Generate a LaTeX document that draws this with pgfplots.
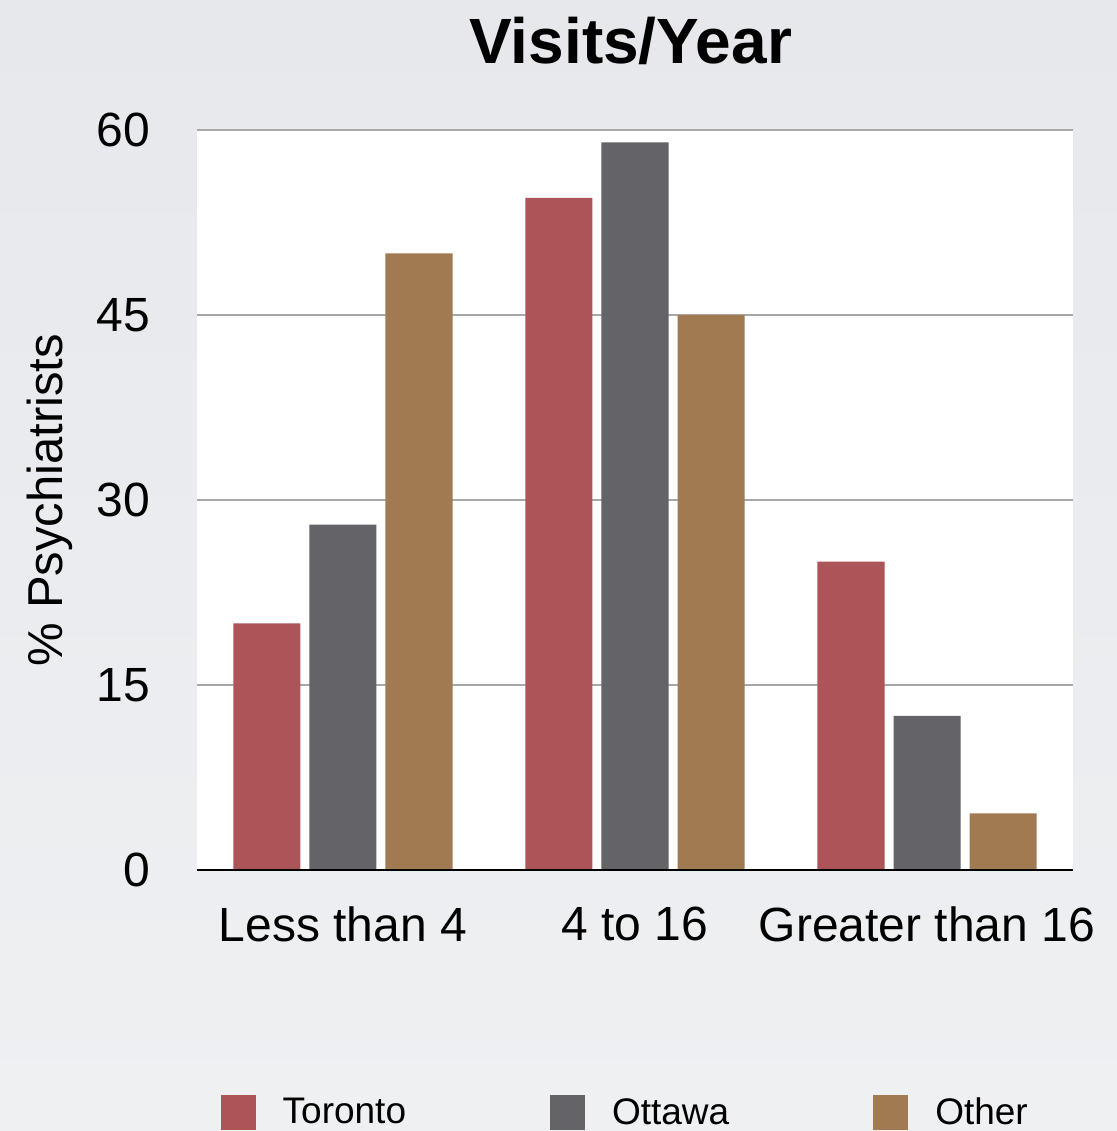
\documentclass[border=0pt]{standalone}
\usepackage{pgfplots}
\pgfplotsset{compat=1.18}
\usepackage{fontspec}
\setmainfont{Liberation Sans}

\definecolor{bgtop}{HTML}{E6E8EC}
\definecolor{bgbot}{HTML}{EFF0F2}
\definecolor{toronto}{HTML}{AD5459}
\definecolor{ottawa}{HTML}{636368}
\definecolor{other}{HTML}{A27A52}
\definecolor{gridgray}{HTML}{A8A8A8}

\pgfplotsset{
  legsq/.style={legend image code/.code={\fill[##1] (0pt,-8.75pt) rectangle (17.5pt,8.75pt);}},
}

\begin{document}
\begin{tikzpicture}
\useasboundingbox (0,0) rectangle (558.5pt,565.5pt);
\shade[top color=bgtop, bottom color=bgbot] (0,0) rectangle (558.5pt,565.5pt);
\begin{axis}[
  at={(98.5pt,130.5pt)}, anchor=south west,
  scale only axis, width=438pt, height=370pt,
  ybar=4.5pt, bar width=33.5pt,
  xmin=-0.5, xmax=2.5, ymin=0, ymax=60,
  xtick={0,1,2},
  xticklabels={Less than 4, 4 to 16, Greater than 16},
  ytick={0,15,30,45,60},
  major tick length=0pt,
  axis line style={draw=none},
  axis background/.style={fill=white},
  ymajorgrids,
  grid style={gridgray, line width=0.8pt},
  tick label style={font=\fontsize{24}{28}\selectfont},
  /pgf/number format/assume math mode=true,
  yticklabel style={xshift=-20pt},
  xticklabel style={yshift=-15pt},
  ylabel={\% Psychiatrists},
  ylabel style={at={(axis description cs:-0.168,0.5)}, anchor=center,
                font=\fontsize{24.5}{28}\selectfont},
  title={Visits/Year},
  title style={at={(axis description cs:0.495,1.104)}, anchor=center,
               font=\fontsize{32}{38}\selectfont\bfseries},
  legend style={at={(axis description cs:0.49,-0.328)}, anchor=center,
                draw=none, fill=none, legend columns=3,
                font=\fontsize{18.5}{22}\selectfont,
                /tikz/every odd column/.append style={column sep=11.5pt},
                /tikz/every even column/.append style={column sep=70pt}},
]
\addplot[fill=toronto, draw=none, legsq] coordinates {(0,20) (1,54.5) (2,25)};
\addplot[fill=ottawa, draw=none, legsq] coordinates {(0,28) (1,59) (2,12.5)};
\addplot[fill=other, draw=none, legsq] coordinates {(0,50) (1,45) (2,4.6)};
\legend{Toronto, Ottawa, Other}
\draw[black, line width=1.5pt] (axis cs:-0.5,0) -- (axis cs:2.5,0);
\end{axis}
\end{tikzpicture}
\end{document}
